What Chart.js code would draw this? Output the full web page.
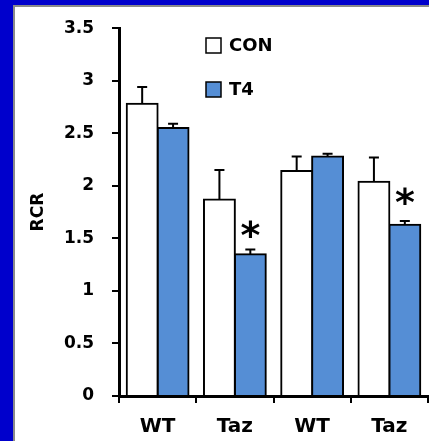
<!DOCTYPE html>
<html>
<head>
<meta charset="utf-8">
<script src="https://cdn.jsdelivr.net/npm/chart.js@4"></script>
<style>
  body { margin: 0; background: #0000cc; width: 429px; height: 441px; overflow: hidden; }
  #panel { position: absolute; left: 13px; top: 5px; width: 416px; height: 436px; background: #fff;
           border-left: 2px solid #8a8a8a; border-top: 2px solid #8a8a8a; box-sizing: border-box; }
  #chart { position: absolute; left: 0; top: 0; }
</style>
</head>
<body>
<div id="panel"></div>
<canvas id="chart" width="429" height="441"></canvas>
<script>
const categories = ['WT', 'Taz', 'WT', 'Taz'];
const conValues = [2.78, 1.87, 2.14, 2.04];
const conErrors = [0.16, 0.28, 0.14, 0.23];
const t4Values = [2.55, 1.35, 2.28, 1.63];
const t4Errors = [0.04, 0.045, 0.025, 0.035];
const starLevels = [null, 1.59, null, 1.905]; // asterisk centres above T4 bars
const yTicks = [0, 0.5, 1, 1.5, 2, 2.5, 3, 3.5];

const blue = '#558ed5';
const fontFamily = '"DejaVu Sans", Verdana, sans-serif';

const errorBars = {
    id: 'errorBars',
    afterDatasetsDraw(chart) {
        const ctx = chart.ctx;
        const y = chart.scales.y;
        ctx.save();
        ctx.strokeStyle = '#000';
        ctx.lineWidth = 2;
        chart.data.datasets.forEach((ds, di) => {
            chart.getDatasetMeta(di).data.forEach((bar, i) => {
                const top = y.getPixelForValue(ds.data[i] + ds.errors[i]);
                ctx.beginPath();
                ctx.moveTo(bar.x, bar.y);
                ctx.lineTo(bar.x, top);
                ctx.moveTo(bar.x - 5, top);
                ctx.lineTo(bar.x + 5, top);
                ctx.stroke();
            });
        });
        // significance stars
        ctx.fillStyle = '#000';
        ctx.font = 'bold 38px ' + fontFamily;
        ctx.textAlign = 'center';
        ctx.textBaseline = 'alphabetic';
        const m = ctx.measureText('*');
        const mid = (m.actualBoundingBoxAscent - m.actualBoundingBoxDescent) / 2;
        chart.getDatasetMeta(1).data.forEach((bar, i) => {
            if (starLevels[i] == null) return;
            ctx.fillText('*', bar.x, y.getPixelForValue(starLevels[i]) + mid);
        });
        ctx.restore();
    }
};

const boxLegend = {
    id: 'boxLegend',
    afterDraw(chart) {
        const ctx = chart.ctx;
        ctx.save();
        ctx.font = 'bold 18px ' + fontFamily;
        ctx.textBaseline = 'middle';
        ctx.textAlign = 'left';
        chart.data.datasets.forEach((ds, i) => {
            const x = 206, yc = 45 + i * 44;
            ctx.fillStyle = ds.backgroundColor;
            ctx.fillRect(x, yc - 7, 15, 15);
            ctx.strokeStyle = '#000';
            ctx.lineWidth = 1.5;
            ctx.strokeRect(x, yc - 7, 15, 15);
            ctx.fillStyle = '#000';
            ctx.fillText(ds.label, x + 23, yc + 1);
        });
        ctx.restore();
    }
};

new Chart(document.getElementById('chart'), {
    type: 'bar',
    data: {
        labels: categories,
        datasets: [
            { label: 'CON', data: conValues, errors: conErrors, backgroundColor: '#ffffff',
              borderColor: '#000', borderWidth: 2, borderSkipped: 'start', inflateAmount: 1 },
            { label: 'T4', data: t4Values, errors: t4Errors, backgroundColor: blue,
              borderColor: '#000', borderWidth: 2, borderSkipped: 'start', inflateAmount: 1 }
        ]
    },
    options: {
        responsive: false,
        animation: false,
        datasets: { bar: { categoryPercentage: 0.8, barPercentage: 1.0 } },
        layout: { padding: { left: 15, top: 28, right: 1, bottom: 0 } },
        plugins: { legend: { display: false }, tooltip: { enabled: false } },
        scales: {
            x: {
                afterFit: s => { s.height = 45; },
                grid: { display: true, drawOnChartArea: false, drawTicks: true, tickLength: 7,
                        color: '#000', lineWidth: 2, offset: true },
                border: { color: '#000', width: 3 },
                ticks: { color: '#000', padding: 12, font: { family: fontFamily, size: 20, weight: 'bold' } }
            },
            y: {
                min: 0, max: 3.5,
                afterFit: s => { s.width = 104; },
                afterBuildTicks: s => { s.ticks = yTicks.map(v => ({ value: v })); },
                grid: { display: true, drawOnChartArea: false, drawTicks: true, tickLength: 7,
                        color: '#000', lineWidth: 2 },
                border: { color: '#000', width: 3 },
                title: { display: true, text: 'RCR', color: '#000', padding: { top: 13, bottom: 0 },
                         font: { family: fontFamily, size: 17, weight: 'bold' } },
                ticks: { color: '#000', padding: 18, callback: v => String(v),
                         font: { family: fontFamily, size: 17, weight: 'bold' } }
            }
        }
    },
    plugins: [errorBars, boxLegend]
});
</script>
</body>
</html>
